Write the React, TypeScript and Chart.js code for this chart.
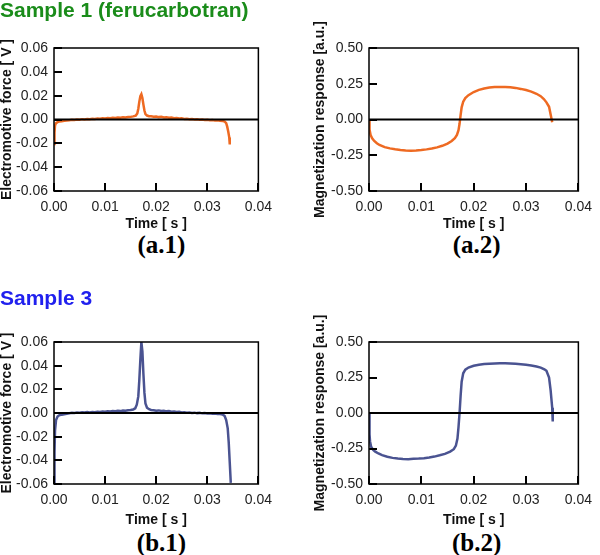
import React, { useEffect, useRef } from 'react';
import { Chart, registerables } from 'chart.js';

Chart.register(...registerables);

// ---- tick values ----
const timeTicks = [0, 0.01, 0.02, 0.03, 0.04];
const emfTicks = [-0.06, -0.04, -0.02, 0, 0.02, 0.04, 0.06];
const magTicks = [-0.5, -0.25, 0, 0.25, 0.5];

// ---- (a.1) Sample 1 electromotive force ----
const a1Time = [
  0.0000, 0.0001, 0.0002, 0.0004, 0.0007, 0.0010, 0.0015, 0.0020, 0.0025, 0.0030,
  0.0035, 0.0040, 0.0045, 0.0050, 0.0055, 0.0060, 0.0065, 0.0070, 0.0075, 0.0080,
  0.0085, 0.0090, 0.0095, 0.0100, 0.0105, 0.0110, 0.0115, 0.0120, 0.0125, 0.0130,
  0.0135, 0.0140, 0.0145, 0.0150, 0.0155, 0.0160, 0.0163, 0.0165, 0.0167, 0.0169,
  0.0171, 0.0173, 0.0175, 0.0177, 0.0179, 0.0182, 0.0186, 0.0190, 0.0195, 0.0200,
  0.0205, 0.0210, 0.0215, 0.0220, 0.0225, 0.0230, 0.0235, 0.0240, 0.0245, 0.0250,
  0.0255, 0.0260, 0.0265, 0.0270, 0.0275, 0.0280, 0.0285, 0.0290, 0.0295, 0.0300,
  0.0305, 0.0310, 0.0315, 0.0320, 0.0325, 0.0330, 0.0334, 0.0337, 0.0339, 0.0341,
  0.0343, 0.0344,
];
const a1Emf = [
  -0.0205, -0.0110, -0.0050, -0.0030, -0.0022, -0.0018, -0.0014, -0.0011, -0.0008, -0.0006,
  -0.0002, -0.0004, 0.0000, -0.0002, 0.0003, 0.0001, 0.0005, 0.0003, 0.0007, 0.0005,
  0.0009, 0.0007, 0.0011, 0.0009, 0.0012, 0.0010, 0.0014, 0.0012, 0.0016, 0.0014,
  0.0018, 0.0017, 0.0021, 0.0022, 0.0026, 0.0033, 0.0050, 0.0090, 0.0150, 0.0195,
  0.0212, 0.0180, 0.0125, 0.0075, 0.0045, 0.0033, 0.0028, 0.0027, 0.0023, 0.0025,
  0.0020, 0.0022, 0.0017, 0.0019, 0.0014, 0.0016, 0.0011, 0.0013, 0.0008, 0.0010,
  0.0005, 0.0007, 0.0002, 0.0004, 0.0000, 0.0002, -0.0002, 0.0000, -0.0004, -0.0002,
  -0.0006, -0.0004, -0.0008, -0.0007, -0.0010, -0.0012, -0.0018, -0.0030, -0.0060, -0.0100,
  -0.0150, -0.0210,
];

// ---- (a.2) Sample 1 magnetization response ----
const a2Time = [
  0.0000, 0.0001, 0.0003, 0.0006, 0.0010, 0.0015, 0.0020, 0.0030, 0.0040, 0.0050,
  0.0060, 0.0070, 0.0080, 0.0090, 0.0100, 0.0110, 0.0120, 0.0130, 0.0140, 0.0150,
  0.0158, 0.0164, 0.0168, 0.0171, 0.0173, 0.0175, 0.0177, 0.0180, 0.0184, 0.0190,
  0.0200, 0.0210, 0.0220, 0.0230, 0.0240, 0.0250, 0.0260, 0.0270, 0.0280, 0.0290,
  0.0300, 0.0310, 0.0320, 0.0328, 0.0334, 0.0339, 0.0344, 0.0347, 0.0350,
];
const a2Mag = [
  0.000, -0.070, -0.108, -0.132, -0.150, -0.166, -0.178, -0.193, -0.202, -0.208,
  -0.213, -0.216, -0.218, -0.217, -0.214, -0.209, -0.203, -0.195, -0.184, -0.168,
  -0.150, -0.130, -0.108, -0.075, -0.030, 0.030, 0.085, 0.125, 0.150, 0.170,
  0.192, 0.207, 0.217, 0.223, 0.227, 0.228, 0.228, 0.226, 0.221, 0.214,
  0.206, 0.195, 0.180, 0.163, 0.143, 0.120, 0.089, 0.035, -0.020,
];

// ---- (b.1) Sample 3 electromotive force ----
const b1Time = [
  0.0000, 0.0001, 0.0002, 0.0004, 0.0007, 0.0010, 0.0015, 0.0020, 0.0025, 0.0030,
  0.0035, 0.0040, 0.0045, 0.0050, 0.0055, 0.0060, 0.0065, 0.0070, 0.0075, 0.0080,
  0.0085, 0.0090, 0.0095, 0.0100, 0.0105, 0.0110, 0.0115, 0.0120, 0.0125, 0.0130,
  0.0135, 0.0140, 0.0145, 0.0150, 0.0155, 0.0159, 0.0162, 0.0165, 0.0167, 0.0169,
  0.0171, 0.0173, 0.0175, 0.0177, 0.0179, 0.0182, 0.0186, 0.0190, 0.0195, 0.0200,
  0.0205, 0.0210, 0.0215, 0.0220, 0.0225, 0.0230, 0.0235, 0.0240, 0.0245, 0.0250,
  0.0255, 0.0260, 0.0265, 0.0270, 0.0275, 0.0280, 0.0285, 0.0290, 0.0295, 0.0300,
  0.0305, 0.0310, 0.0315, 0.0320, 0.0325, 0.0330, 0.0334, 0.0337, 0.0340, 0.0342,
  0.0344, 0.0346,
];
const b1Emf = [
  -0.0600, -0.0330, -0.0150, -0.0060, -0.0030, -0.0020, -0.0014, -0.0010, -0.0006, -0.0002,
  0.0002, 0.0000, 0.0004, 0.0002, 0.0006, 0.0004, 0.0008, 0.0005, 0.0009, 0.0007,
  0.0011, 0.0009, 0.0012, 0.0010, 0.0014, 0.0012, 0.0016, 0.0014, 0.0018, 0.0016,
  0.0021, 0.0019, 0.0024, 0.0025, 0.0030, 0.0040, 0.0070, 0.0140, 0.0280, 0.0450,
  0.0600, 0.0520, 0.0330, 0.0170, 0.0080, 0.0045, 0.0032, 0.0026, 0.0024, 0.0020,
  0.0022, 0.0017, 0.0019, 0.0014, 0.0016, 0.0011, 0.0013, 0.0008, 0.0010, 0.0005,
  0.0007, 0.0003, 0.0005, 0.0001, 0.0003, -0.0001, 0.0001, -0.0003, -0.0001, -0.0005,
  -0.0003, -0.0006, -0.0005, -0.0008, -0.0009, -0.0012, -0.0025, -0.0060, -0.0130, -0.0250,
  -0.0420, -0.0590,
];

// ---- (b.2) Sample 3 magnetization response ----
const b2Time = [
  0.0000, 0.0001, 0.0002, 0.0004, 0.0008, 0.0012, 0.0018, 0.0025, 0.0035, 0.0045,
  0.0055, 0.0065, 0.0075, 0.0085, 0.0095, 0.0105, 0.0115, 0.0125, 0.0135, 0.0145,
  0.0155, 0.0162, 0.0166, 0.0169, 0.0171, 0.0173, 0.0175, 0.0177, 0.0180, 0.0184,
  0.0190, 0.0200, 0.0210, 0.0220, 0.0230, 0.0240, 0.0250, 0.0260, 0.0270, 0.0280,
  0.0290, 0.0300, 0.0310, 0.0320, 0.0328, 0.0335, 0.0339, 0.0344, 0.0347, 0.0350,
  0.0351,
];
const b2Mag = [
  0.000, -0.150, -0.200, -0.238, -0.260, -0.272, -0.285, -0.297, -0.308, -0.316,
  -0.321, -0.324, -0.325, -0.323, -0.321, -0.318, -0.313, -0.307, -0.298, -0.288,
  -0.272, -0.255, -0.230, -0.180, -0.100, 0.000, 0.120, 0.220, 0.280, 0.305,
  0.320, 0.333, 0.340, 0.345, 0.347, 0.349, 0.350, 0.350, 0.349, 0.346,
  0.343, 0.340, 0.335, 0.328, 0.320, 0.308, 0.297, 0.250, 0.160, 0.037,
  -0.060,
];

const ORANGE = '#EE6A22';
const NAVY = '#4A5391';
const SANS = "'Liberation Sans', Arial, Helvetica, sans-serif";

const fmt = (v: number) => (Math.abs(v) < 1e-9 ? '0.00' : Number(v).toFixed(2));

const framePlugin = {
  id: 'frame',
  afterDatasetsDraw(chart: any) {
    const { ctx, chartArea, scales } = chart;
    const { left, top, right, bottom } = chartArea;
    const xs = scales.x;
    const ys = scales.y;
    ctx.save();
    ctx.strokeStyle = '#000';
    ctx.lineCap = 'butt';
    const seg = (x1: number, y1: number, x2: number, y2: number) => {
      ctx.beginPath();
      ctx.moveTo(x1, y1);
      ctx.lineTo(x2, y2);
      ctx.stroke();
    };
    // zero line
    ctx.lineWidth = 2;
    const y0 = ys.getPixelForValue(0);
    seg(left, y0, right, y0);
    // inward tick marks
    ctx.lineWidth = 2;
    xs.ticks.forEach((t: any) => {
      const px = Math.round(xs.getPixelForValue(t.value));
      seg(px, bottom, px, bottom - 8);
    });
    ys.ticks.forEach((t: any) => {
      const py = Math.round(ys.getPixelForValue(t.value));
      seg(left, py, left + 8, py);
    });
    // frame
    ctx.lineWidth = 1.5;
    ctx.strokeRect(left, top, right - left, bottom - top);
    ctx.restore();
  },
};

type PanelProps = {
  left: number;
  top: number;
  width: number;
  height: number;
  padTop: number;
  padRight: number;
  yWidth: number;
  xHeight: number;
  time: number[];
  values: number[];
  color: string;
  yTicks: number[];
  yTitle: string;
};

function Panel(p: PanelProps) {
  const ref = useRef<HTMLCanvasElement>(null);
  useEffect(() => {
    const chart = new Chart(ref.current as HTMLCanvasElement, {
      type: 'line',
      data: {
        datasets: [
          {
            data: p.time.map((t, i) => ({ x: t, y: p.values[i] })),
            borderColor: p.color,
            borderWidth: 2.5,
            pointRadius: 0,
            tension: 0,
            fill: false,
          },
        ],
      },
      options: {
        responsive: false,
        animation: false,
        devicePixelRatio: 1,
        layout: { padding: { left: 0, top: p.padTop, right: p.padRight, bottom: 0 } },
        plugins: { legend: { display: false }, tooltip: { enabled: false } },
        scales: {
          x: {
            type: 'linear',
            min: timeTicks[0],
            max: timeTicks[timeTicks.length - 1],
            afterBuildTicks: (s: any) => {
              s.ticks = timeTicks.map((v) => ({ value: v }));
            },
            afterFit: (s: any) => {
              s.height = p.xHeight;
            },
            grid: { display: false, drawTicks: false },
            border: { display: false },
            ticks: {
              padding: 8,
              color: '#222',
              maxRotation: 0,
              autoSkip: false,
              font: { family: SANS, size: 14 },
              callback: (v: any) => fmt(Number(v)),
            },
            title: {
              display: true,
              text: 'Time [ s ]',
              color: '#111',
              padding: 0,
              font: { family: SANS, size: 14, weight: 'bold', lineHeight: 1 },
            },
          },
          y: {
            type: 'linear',
            min: p.yTicks[0],
            max: p.yTicks[p.yTicks.length - 1],
            afterBuildTicks: (s: any) => {
              s.ticks = p.yTicks.map((v) => ({ value: v }));
            },
            afterFit: (s: any) => {
              s.width = p.yWidth;
            },
            grid: { display: false, drawTicks: false },
            border: { display: false },
            ticks: {
              padding: 6,
              color: '#222',
              autoSkip: false,
              font: { family: SANS, size: 14 },
              callback: (v: any) => fmt(Number(v)),
            },
            title: {
              display: true,
              text: p.yTitle,
              color: '#111',
              padding: 0,
              font: { family: SANS, size: 14, weight: 'bold', lineHeight: 1 },
            },
          },
        },
      } as any,
      plugins: [framePlugin],
    });
    return () => chart.destroy();
  }, []);
  return (
    <canvas
      ref={ref}
      width={p.width}
      height={p.height}
      style={{ position: 'absolute', left: p.left, top: p.top, width: p.width, height: p.height }}
    />
  );
}

const headStyle = (top: number, color: string): React.CSSProperties => ({
  position: 'absolute',
  left: 0,
  top,
  fontFamily: SANS,
  fontWeight: 'bold',
  fontSize: 21,
  lineHeight: '21px',
  color,
  whiteSpace: 'nowrap',
});

const labelStyle = (cx: number, top: number): React.CSSProperties => ({
  position: 'absolute',
  left: cx - 60,
  width: 120,
  top,
  textAlign: 'center',
  fontFamily: "'Liberation Serif', 'Times New Roman', serif",
  fontWeight: 'bold',
  fontSize: 25,
  lineHeight: '25px',
  color: '#000',
  whiteSpace: 'nowrap',
});

export default function App() {
  return (
    <div
      style={{
        position: 'absolute',
        left: 0,
        top: 0,
        width: 600,
        height: 555,
        background: '#fff',
        overflow: 'hidden',
      }}
    >
      <Panel
        left={0} top={8} width={280} height={223}
        padTop={40} padRight={11} yWidth={54} xHeight={40}
        time={a1Time} values={a1Emf} color={ORANGE}
        yTicks={emfTicks} yTitle="Electromotive force [ V ]"
      />
      <Panel
        left={313} top={8} width={287} height={223}
        padTop={40} padRight={16} yWidth={56} xHeight={40}
        time={a2Time} values={a2Mag} color={ORANGE}
        yTicks={magTicks} yTitle="Magnetization response [a.u.]"
      />
      <Panel
        left={0} top={305} width={280} height={222}
        padTop={37} padRight={11} yWidth={54} xHeight={43}
        time={b1Time} values={b1Emf} color={NAVY}
        yTicks={emfTicks} yTitle="Electromotive force [ V ]"
      />
      <Panel
        left={313} top={305} width={287} height={222}
        padTop={37} padRight={16} yWidth={56} xHeight={43}
        time={b2Time} values={b2Mag} color={NAVY}
        yTicks={magTicks} yTitle="Magnetization response [a.u.]"
      />

      <div style={headStyle(-1, '#1A8C1A')}>Sample 1 (ferucarbotran)</div>
      <div style={headStyle(287, '#2020EE')}>Sample 3</div>

      <div style={labelStyle(161.5, 232)}>(a.1)</div>
      <div style={labelStyle(476.7, 232)}>(a.2)</div>
      <div style={labelStyle(161.5, 530)}>(b.1)</div>
      <div style={labelStyle(476.7, 530)}>(b.2)</div>
    </div>
  );
}
